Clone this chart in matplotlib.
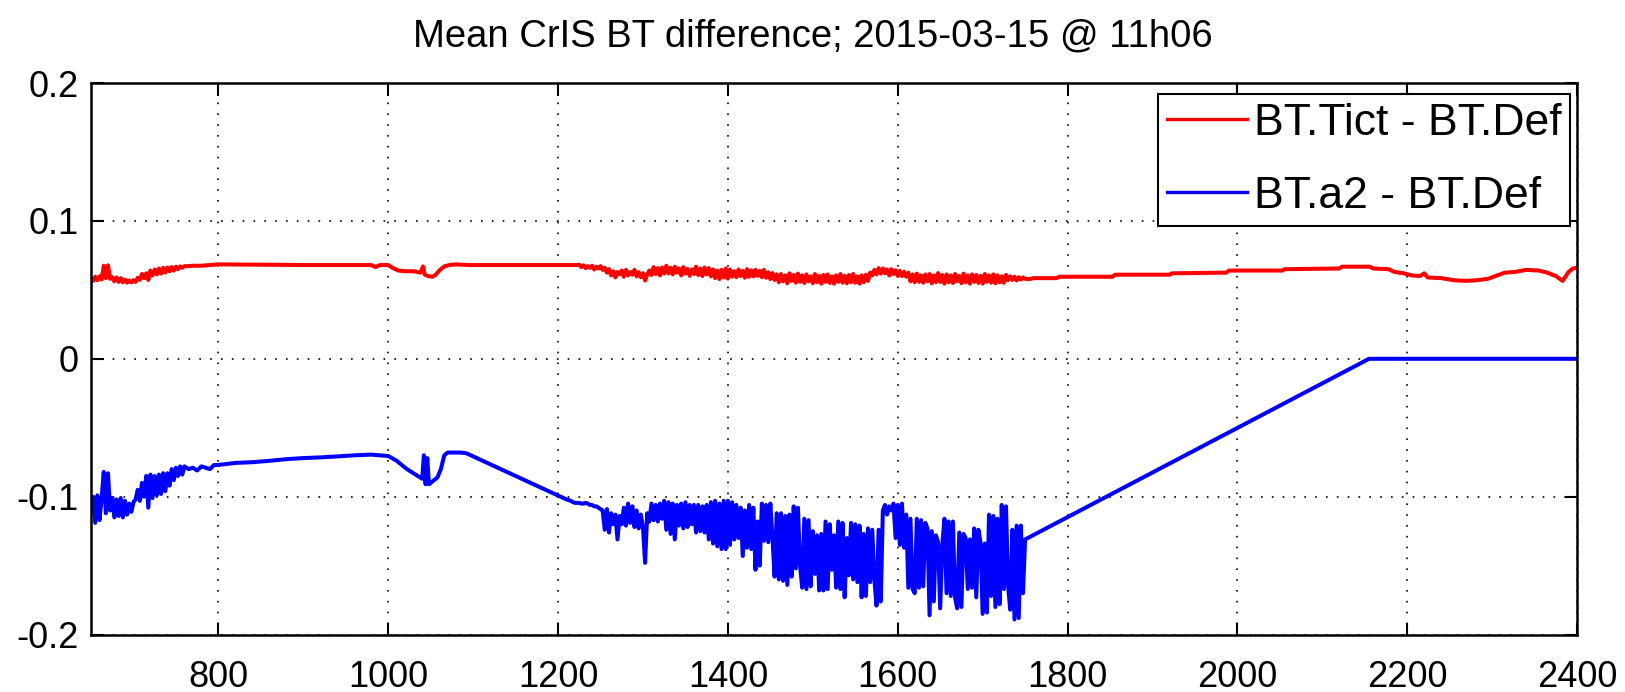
import numpy as np
import matplotlib
matplotlib.use("Agg")
import matplotlib.pyplot as plt

plt.rcParams['font.family'] = ['Liberation Sans', 'DejaVu Sans']

title = "Mean CrIS BT difference; 2015-03-15 @ 11h06"
label_red = "BT.Tict - BT.Def"
label_blue = "BT.a2 - BT.Def"
x_ticks = [800, 1000, 1200, 1400, 1600, 1800, 2000, 2200, 2400]
y_ticks = [-0.2, -0.1, 0.0, 0.1, 0.2]
y_tick_labels = ["-0.2", "-0.1", "0", "0.1", "0.2"]

# Channel grids (cm-1) used by the densely sampled stretches
STEP = 2.5
LW_START = 650.0    # long-wave stretch sampled on the regular grid
MW_START = 1210.0   # mid-wave band

# ---------------- BT.Tict - BT.Def ----------------
red_lw_bt = [
    0.0585, 0.0565, 0.0595, 0.057, 0.0598, 0.0575, 0.0675, 0.0585, 0.0678, 0.058,
    0.0592, 0.0562, 0.059, 0.0558, 0.0585, 0.0555, 0.0575, 0.0552, 0.0568, 0.0555,
    0.057, 0.0558, 0.0588, 0.0572, 0.0615, 0.0585, 0.062, 0.0572, 0.064, 0.0605,
    0.0648, 0.0612, 0.0655, 0.0618, 0.066, 0.0625, 0.0662, 0.0635, 0.0665, 0.064,
    0.0668, 0.065, 0.067, 0.066, 0.0672,
]
red_lw_tail = [
    (765, 0.0672), (770, 0.0675), (780, 0.0675), (790, 0.068), (800, 0.0685), (900, 0.068),
    (980, 0.068), (985, 0.0665), (990, 0.068), (1000, 0.068), (1005, 0.066), (1012, 0.064),
    (1020, 0.0635), (1030, 0.0635), (1038, 0.0625), (1041, 0.067), (1043, 0.061), (1047, 0.060),
    (1052, 0.0595), (1056, 0.061), (1060, 0.064), (1066, 0.067), (1072, 0.068), (1080, 0.0685),
    (1095, 0.068),
]
red_mw_bt = [
    0.068, 0.068, 0.068, 0.068, 0.068, 0.068, 0.0682, 0.0665, 0.0678, 0.0658,
    0.0672, 0.066, 0.0675, 0.0648, 0.0668, 0.0655, 0.0672, 0.0645, 0.066, 0.0625,
    0.065, 0.0605, 0.0635, 0.059, 0.063, 0.0612, 0.064, 0.0595, 0.0645, 0.0605,
    0.063, 0.061, 0.0645, 0.0598, 0.0628, 0.0592, 0.062, 0.0568, 0.0612, 0.064,
    0.0608, 0.0665, 0.0615, 0.0658, 0.0605, 0.0662, 0.0618, 0.0675, 0.062, 0.066,
    0.0612, 0.0668, 0.0625, 0.0655, 0.0605, 0.0665, 0.0618, 0.0652, 0.0602, 0.0648,
    0.0615, 0.0668, 0.0608, 0.0655, 0.060, 0.0662, 0.0612, 0.0658, 0.0598, 0.0648,
    0.0585, 0.064, 0.0578, 0.0645, 0.059, 0.0655, 0.0582, 0.0648, 0.0595, 0.0635,
    0.0592, 0.0648, 0.060, 0.0638, 0.0588, 0.065, 0.0595, 0.0642, 0.0598, 0.0645,
    0.0602, 0.0638, 0.0592, 0.0645, 0.0588, 0.0628, 0.0578, 0.0622, 0.0572, 0.0612,
    0.0555, 0.0615, 0.0562, 0.0605, 0.0548, 0.062, 0.0565, 0.0608, 0.0552, 0.0618,
    0.0558, 0.0605, 0.055, 0.0612, 0.0562, 0.0598, 0.0548, 0.0615, 0.0555, 0.0602,
    0.0545, 0.0608, 0.0558, 0.0612, 0.055, 0.0598, 0.0545, 0.0605, 0.0558, 0.0615,
    0.0552, 0.0602, 0.0548, 0.0608, 0.0555, 0.0615, 0.0552, 0.0598, 0.0545, 0.0605,
    0.0555, 0.061, 0.0565, 0.0625, 0.0605, 0.0645, 0.0612, 0.0658, 0.0618, 0.0655,
    0.062, 0.0648, 0.0605, 0.065, 0.0615, 0.0642, 0.0602, 0.0638, 0.060, 0.0632,
    0.0595, 0.0625, 0.0562, 0.0612, 0.0555, 0.0618, 0.0558, 0.0605, 0.0552, 0.0612,
    0.0562, 0.0615, 0.0548, 0.0605, 0.0555, 0.0622, 0.0558, 0.0608, 0.0545, 0.0612,
    0.0555, 0.0605, 0.055, 0.0615, 0.0562, 0.0602, 0.0548, 0.0618, 0.0555, 0.0605,
    0.0545, 0.0612, 0.0558, 0.0608, 0.055, 0.0602, 0.0545, 0.0615, 0.0558, 0.0605,
    0.0552, 0.0612, 0.0548, 0.0605, 0.0555, 0.0598, 0.0552, 0.0608, 0.057, 0.0598,
    0.0572, 0.0595, 0.0568, 0.0592, 0.0575, 0.059, 0.058,
]
red_sw_tail = [
    (1755, 0.0578), (1760, 0.0585), (1787, 0.0585), (1790, 0.0595), (1853, 0.0595), (1856, 0.061),
    (1920, 0.061), (1923, 0.062), (1987, 0.0625), (1990, 0.064), (2053, 0.064), (2056, 0.065),
    (2120, 0.0655), (2123, 0.0668), (2156, 0.0668), (2160, 0.0655), (2178, 0.065), (2185, 0.063),
    (2196, 0.062), (2205, 0.0605), (2215, 0.060), (2220, 0.062), (2224, 0.059), (2240, 0.0585),
    (2255, 0.057), (2270, 0.0565), (2282, 0.057), (2295, 0.058), (2304, 0.060), (2315, 0.0625),
    (2327, 0.063), (2340, 0.0645), (2355, 0.064), (2365, 0.0625), (2375, 0.060), (2383, 0.0565),
    (2390, 0.063), (2395, 0.0655), (2400, 0.066),
]

# ---------------- BT.a2 - BT.Def ----------------
blue_lw_bt = [
    -0.112, -0.100, -0.119, -0.099, -0.117, -0.101, -0.082, -0.112, -0.083, -0.110,
    -0.101, -0.115, -0.102, -0.114, -0.101, -0.115, -0.103, -0.113, -0.105, -0.111,
    -0.104, -0.102, -0.095, -0.103, -0.090, -0.100, -0.085, -0.108, -0.084, -0.101,
    -0.085, -0.099, -0.084, -0.098, -0.083, -0.096, -0.083, -0.092, -0.080, -0.088,
    -0.079, -0.085, -0.078, -0.084, -0.078,
]
blue_lw_tail = [
    (765, -0.080), (770, -0.079), (775, -0.081), (780, -0.078), (785, -0.079), (790, -0.080),
    (795, -0.077), (800, -0.077), (820, -0.0755), (840, -0.075), (860, -0.074), (880, -0.0728),
    (900, -0.072), (920, -0.0715), (940, -0.0708), (960, -0.070), (980, -0.0695), (1000, -0.0705),
    (1010, -0.074), (1022, -0.080), (1035, -0.085), (1040, -0.087), (1042, -0.070), (1044, -0.091),
    (1046, -0.072), (1048, -0.091), (1052, -0.089), (1058, -0.086), (1062, -0.080), (1066, -0.070),
    (1070, -0.068), (1085, -0.068), (1092, -0.0685),
]
blue_mw_bt = [
    -0.102, -0.1025, -0.103, -0.104, -0.1045, -0.1045, -0.1045, -0.105, -0.105, -0.1045,
    -0.105, -0.106, -0.106, -0.107, -0.107, -0.108, -0.109,
    -0.110, -0.124, -0.109, -0.126, -0.112, -0.120,
    -0.113, -0.131, -0.114,
    -0.120, -0.108, -0.121, -0.105, -0.119, -0.107, -0.122, -0.110,
    -0.123, -0.113, -0.122,
    -0.148, -0.112,
    -0.118, -0.105, -0.117, -0.106, -0.118, -0.105, -0.116,
    -0.103, -0.124, -0.104, -0.127, -0.105,
    -0.131, -0.106, -0.121,
    -0.105, -0.123, -0.104, -0.122, -0.106, -0.120, -0.106,
    -0.126, -0.106, -0.125, -0.107, -0.126,
    -0.106, -0.131,
    -0.104, -0.134, -0.103, -0.136, -0.105, -0.138, -0.103,
    -0.138, -0.103, -0.135,
    -0.104, -0.131, -0.106, -0.130, -0.108,
    -0.143, -0.110,
    -0.137, -0.106, -0.138, -0.108,
    -0.153, -0.118, -0.150,
    -0.105, -0.132, -0.106, -0.133, -0.105, -0.130,
    -0.158, -0.112, -0.160, -0.112, -0.161, -0.114, -0.164, -0.113, -0.158,
    -0.107, -0.152, -0.108, -0.150,
    -0.166, -0.116, -0.167, -0.117, -0.165,
    -0.125, -0.156,
    -0.128, -0.168, -0.127,
    -0.168, -0.118, -0.167, -0.120,
    -0.153, -0.128,
    -0.166, -0.118, -0.167, -0.119,
    -0.173, -0.130,
    -0.157, -0.119, -0.160, -0.120, -0.162, -0.121,
    -0.173, -0.127, -0.172,
    -0.123, -0.162, -0.124, -0.160,
    -0.179, -0.124, -0.176,
    -0.110, -0.106, -0.113, -0.107, -0.110,
    -0.105, -0.130, -0.106, -0.135, -0.105, -0.137,
    -0.113, -0.166, -0.116, -0.167,
    -0.170, -0.116, -0.166, -0.117, -0.165, -0.119,
    -0.123, -0.186, -0.125,
    -0.176, -0.128,
    -0.133, -0.181, -0.135,
    -0.116, -0.170, -0.118,
    -0.172, -0.118, -0.173,
    -0.181, -0.126, -0.180, -0.127,
    -0.130, -0.167, -0.131, -0.166,
    -0.123, -0.173, -0.124,
    -0.133, -0.185, -0.134, -0.184,
    -0.113, -0.172, -0.114,
    -0.180, -0.116, -0.178,
    -0.106, -0.167, -0.107, -0.165,
    -0.182, -0.124,
    -0.189, -0.121, -0.188,
    -0.121, -0.170, -0.131,
]
blue_sw_tail = [(2155, 0.0), (2400, 0.0)]


def grid(start, values):
    return start + STEP * np.arange(len(values))


def assemble(lw_vals, lw_tail, mw_vals, sw_tail):
    tail_lw = np.array(lw_tail, dtype=float)
    tail_sw = np.array(sw_tail, dtype=float)
    wn = np.concatenate([grid(LW_START, lw_vals), tail_lw[:, 0],
                         grid(MW_START, mw_vals), tail_sw[:, 0]])
    bt = np.concatenate([lw_vals, tail_lw[:, 1], mw_vals, tail_sw[:, 1]])
    return wn, bt


red_wn, red_bt = assemble(red_lw_bt, red_lw_tail, red_mw_bt, red_sw_tail)
blue_wn, blue_bt = assemble(blue_lw_bt, blue_lw_tail, blue_mw_bt, blue_sw_tail)

fig = plt.figure(figsize=(16.25, 6.92), dpi=100)
ax = fig.add_axes([0.056, 0.083, 0.9145, 0.797])

ax.plot(red_wn, red_bt, color=(1, 0, 0), lw=2.9, label=label_red)
ax.plot(blue_wn, blue_bt, color=(0, 0, 1), lw=2.9, label=label_blue)

ax.set_xlim(650, 2400)
ax.set_ylim(-0.2, 0.2)
ax.set_xticks(x_ticks)
ax.set_xticklabels([str(t) for t in x_ticks])
ax.set_yticks(y_ticks)
ax.set_yticklabels(y_tick_labels)

ax.grid(True, color='black', linestyle=(0, (1.0, 5.5)), linewidth=1.2)
ax.tick_params(direction='in', length=9, width=1.5, top=True, right=True,
               labelsize=26)
ax.tick_params(axis='y', pad=9)
ax.tick_params(axis='x', pad=18)
for s in ax.spines.values():
    s.set_linewidth(1.8)
    s.set_color('black')

leg = ax.legend(loc='upper right', bbox_to_anchor=(0.9953, 0.980), borderaxespad=0,
                fontsize=32, fancybox=False, framealpha=1, edgecolor='black',
                handlelength=1.8, handletextpad=0.15, labelspacing=0.72, borderpad=0.2)
leg.get_frame().set_linewidth(1.5)
for handle in leg.legend_handles:
    handle.set_linewidth(2.4)

fig.text(0.5, 0.948, title, ha='center', va='center', fontsize=27.5)

fig.savefig("out.png", dpi=100)
